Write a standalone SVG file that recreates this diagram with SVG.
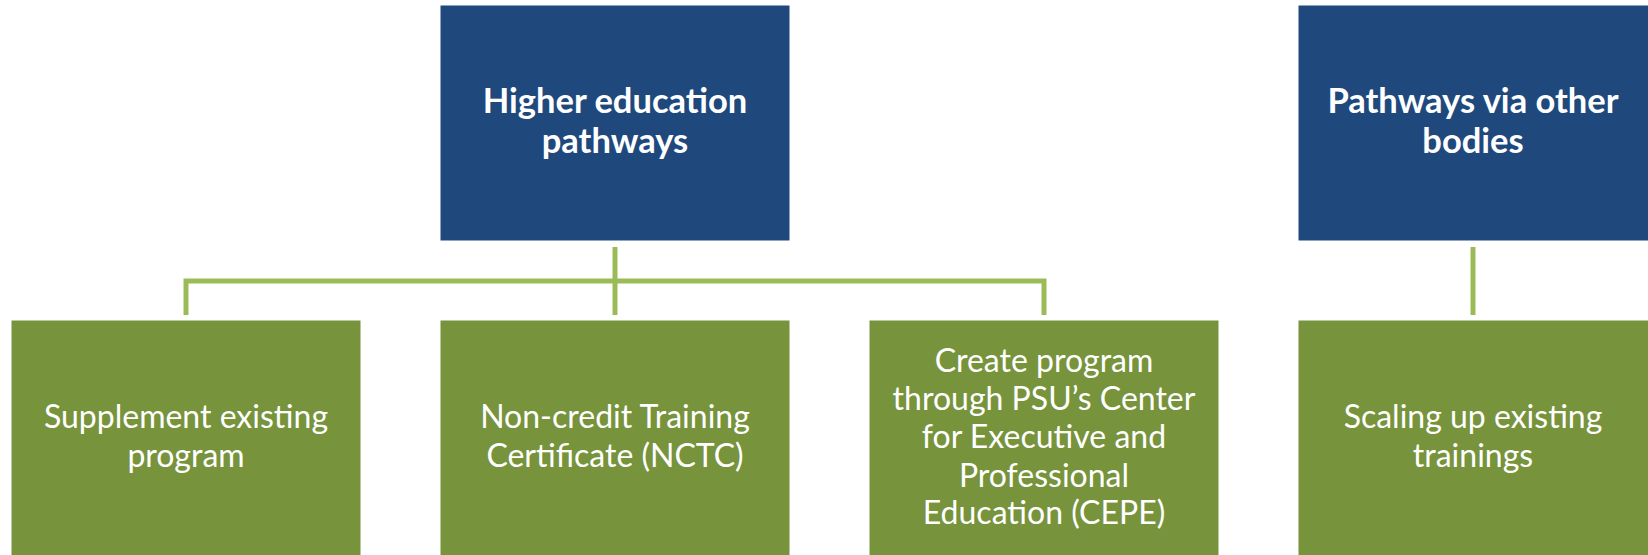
<svg xmlns="http://www.w3.org/2000/svg" width="1648" height="555" viewBox="0 0 1648 555">
  <style>
    .head { fill: #1F497D; }
    .leaf { fill: #77933C; }
    .label { font-family: Lato, "Open Sans", "Liberation Sans", sans-serif; fill: #FFFFFF; text-anchor: middle; }
    .bold { font-weight: bold; font-size: 34.5px; }
    .reg { font-weight: normal; font-size: 32px; }
    .link { stroke: #9BBB59; stroke-width: 5; fill: none; }
  </style>
  <rect width="1648" height="555" fill="#FFFFFF"/>

  <!-- connectors -->
  <g id="connectors">
    <path class="link" d="M615 247 V315"/>
    <path class="link" d="M186 315 V281 H1044 V315"/>
    <path class="link" d="M1473 247 V315"/>
  </g>

  <!-- top-level nodes -->
  <g id="higher-education">
    <rect class="head" x="440.5" y="5.5" width="349" height="235"/>
    <text class="label bold" x="615" y="113">Higher education</text>
    <text class="label bold" x="615" y="153">pathways</text>
  </g>
  <g id="other-bodies">
    <rect class="head" x="1298.5" y="5.5" width="349.5" height="235"/>
    <text class="label bold" x="1473" y="113">Pathways via other</text>
    <text class="label bold" x="1473" y="153">bodies</text>
  </g>

  <!-- child nodes -->
  <g id="supplement">
    <rect class="leaf" x="11.5" y="320.5" width="349" height="235"/>
    <text class="label reg" x="186" y="428">Supplement existing</text>
    <text class="label reg" x="186" y="467">program</text>
  </g>
  <g id="nctc">
    <rect class="leaf" x="440.5" y="320.5" width="349" height="235"/>
    <text class="label reg" x="615" y="428">Non-credit Training</text>
    <text class="label reg" x="615" y="467">Certificate (NCTC)</text>
  </g>
  <g id="cepe">
    <rect class="leaf" x="869.5" y="320.5" width="349" height="235"/>
    <text class="label reg" x="1044" y="372">Create program</text>
    <text class="label reg" x="1044" y="410">through PSU’s Center</text>
    <text class="label reg" x="1044" y="448">for Executive and</text>
    <text class="label reg" x="1044" y="487">Professional</text>
    <text class="label reg" x="1044" y="524">Education (CEPE)</text>
  </g>
  <g id="scaling">
    <rect class="leaf" x="1298.5" y="320.5" width="349.5" height="235"/>
    <text class="label reg" x="1473" y="428">Scaling up existing</text>
    <text class="label reg" x="1473" y="467">trainings</text>
  </g>
</svg>
